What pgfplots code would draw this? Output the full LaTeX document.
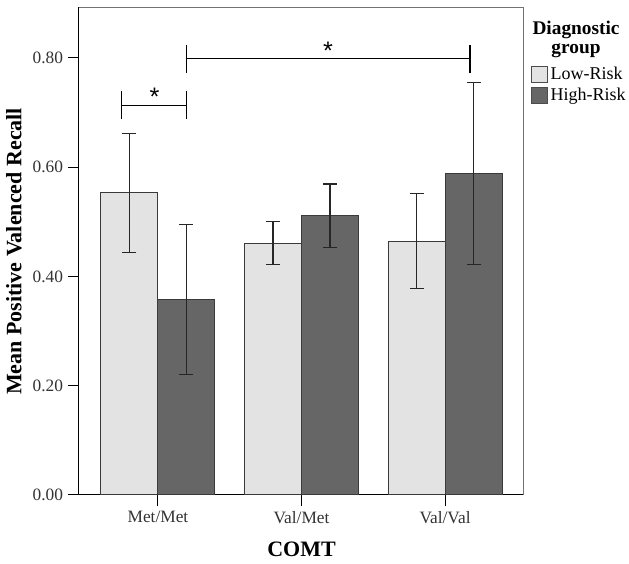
\documentclass[border=0pt]{standalone}
\usepackage{fontspec}
\setmainfont{Liberation Serif}
\setsansfont{Liberation Sans}
\usepackage{pgfplots}
\pgfplotsset{compat=1.18}

\definecolor{lowrisk}{HTML}{E3E3E3}
\definecolor{highrisk}{HTML}{666666}
\definecolor{barline}{HTML}{3A3A3A}

\begin{document}
\begin{tikzpicture}
\begin{axis}[
    scale only axis,
    width=333.75pt, height=365.25pt,
    xmin=-0.55, xmax=2.55, ymin=0, ymax=0.891,
    ybar=0pt, bar width=42.75pt,
    xtick={0,1,2}, xticklabels={Met/Met,Val/Met,Val/Val},
    ytick={0,0.2,0.4,0.6,0.8},
    xtick pos=left, ytick pos=left,
    tick align=outside, major tick length=8.5pt,
    tick style={black, line width=0.75pt},
    axis line style={black, line width=0.75pt},
    /pgf/number format/assume math mode=true,
    yticklabel style={/pgf/number format/fixed, /pgf/number format/fixed zerofill, /pgf/number format/precision=2},
    ticklabel style={font=\fontsize{13}{15}\selectfont, text=black!80},
    xlabel={COMT}, ylabel={Mean Positive Valenced Recall},
    every axis x label/.style={at={(axis description cs:0.5,-0.111)}, anchor=center,
        font=\fontsize{16.5}{19}\selectfont\bfseries},
    every axis y label/.style={at={(axis description cs:-0.146,0.5)}, anchor=center, rotate=90,
        font=\fontsize{16.5}{19}\selectfont\bfseries},
    legend style={at={(rel axis cs:1,1)}, anchor=north west, xshift=5pt, yshift=-42pt,
        draw=none, fill=none, inner sep=0pt, row sep=1pt,
        font=\fontsize{13.5}{15}\selectfont},
    legend cell align=left,
    error bars/y dir=both, error bars/y explicit,
    error bars/error mark options={rotate=90, mark size=5.25pt, line width=0.8pt, black!85},
    error bars/error bar style={line width=0.8pt, black!85},
]
\addplot[fill=lowrisk, draw=barline, line width=0.75pt,
    legend image code/.code={\draw[fill=lowrisk, draw=black!70, line width=0.75pt] (0pt,-6pt) rectangle (12pt,6pt);}]
    coordinates {
    (0,0.553) +- (0,0.109)
    (1,0.461) +- (0,0.040)
    (2,0.464) +- (0,0.087)
};
\addlegendentry{Low-Risk}
\addplot[fill=highrisk, draw=barline, line width=0.75pt,
    legend image code/.code={\draw[fill=highrisk, draw=black!70, line width=0.75pt] (0pt,-6pt) rectangle (12pt,6pt);}]
    coordinates {
    (0,0.358) +- (0,0.137)
    (1,0.511) +- (0,0.058)
    (2,0.588) +- (0,0.166)
};
\addlegendentry{High-Risk}

% significance brackets
\draw[black, line width=0.8pt] (axis cs:-0.251,0.688) -- (axis cs:-0.251,0.739);
\draw[black, line width=0.8pt] (axis cs:-0.251,0.713) -- (axis cs:0.202,0.713);
\draw[black, line width=0.8pt] (axis cs:0.202,0.688) -- (axis cs:0.202,0.739);
\draw[black, line width=0.8pt] (axis cs:0.202,0.772) -- (axis cs:0.202,0.823);
\draw[black, line width=0.8pt] (axis cs:0.202,0.798) -- (axis cs:2.174,0.798);
\draw[black, line width=0.8pt] (axis cs:2.174,0.772) -- (axis cs:2.174,0.823);
\node[font=\sffamily\fontsize{19}{19}\selectfont, inner sep=0pt] at (axis cs:-0.024,0.728) {*};
\node[font=\sffamily\fontsize{19}{19}\selectfont, inner sep=0pt] at (axis cs:1.185,0.812) {*};
\end{axis}
\draw[black!55, line width=0.75pt] (current axis.north west) -- (current axis.north east) -- (current axis.south east);
\node[font=\fontsize{14.5}{16}\selectfont\bfseries, anchor=base, inner sep=0pt] at ([shift={(372.75pt,-20.25pt)}]current axis.north west) {Diagnostic};
\node[font=\fontsize{14.5}{16}\selectfont\bfseries, anchor=base, inner sep=0pt] at ([shift={(372.75pt,-34pt)}]current axis.north west) {group};
\pgfresetboundingbox
\path[use as bounding box] ([shift={(-59.25pt,-51.75pt)}]current axis.south west) rectangle ([shift={(412.5pt,371.25pt)}]current axis.south west);
\end{tikzpicture}
\end{document}
